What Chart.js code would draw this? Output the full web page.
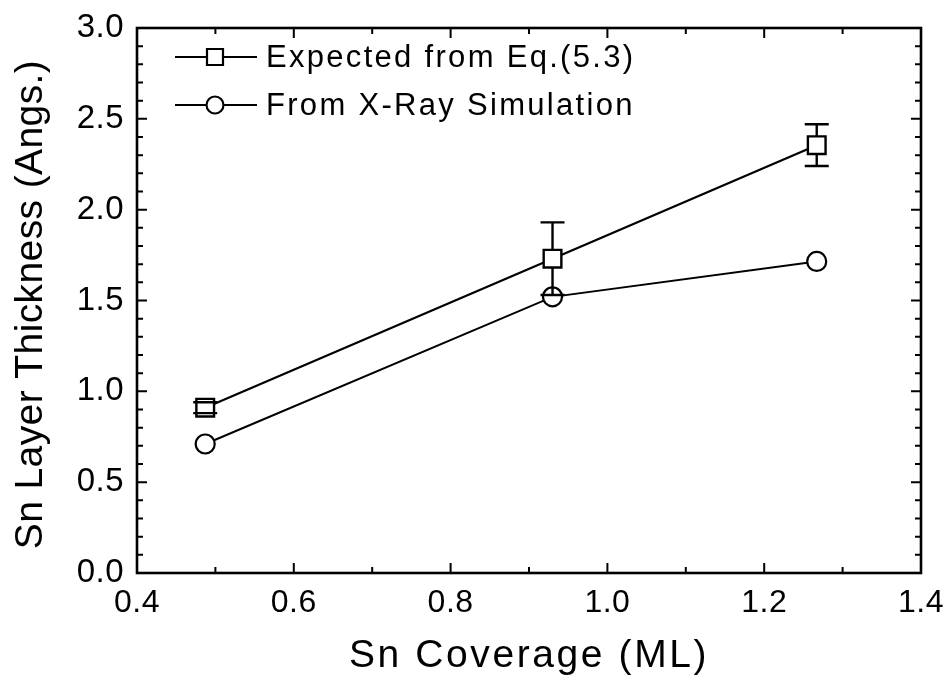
<!DOCTYPE html>
<html>
<head>
<meta charset="utf-8">
<script src="https://cdn.jsdelivr.net/npm/chart.js@4.4.1/dist/chart.umd.min.js"></script>
<style>
  html, body { margin: 0; padding: 0; background: #fff; }
  #wrap { width: 950px; height: 682px; }
</style>
</head>
<body>
<div id="wrap"><canvas id="c" width="950" height="682"></canvas></div>
<script>
// Sn coverage (ML) of the three samples
const coverage = [0.487, 0.930, 1.267];
// Layer thickness expected from Eq.(5.3), with its uncertainty
const expectedThickness = [0.91, 1.73, 2.355];
const expectedError = [0.03, 0.20, 0.115];
// Layer thickness obtained from the X-ray simulation
const simulatedThickness = [0.71, 1.52, 1.715];

const seriesNames = ['Expected from Eq.(5.3)', 'From X-Ray Simulation'];
const xTickValues = [0.4, 0.6, 0.8, 1.0, 1.2, 1.4];
const yTickValues = [0.0, 0.5, 1.0, 1.5, 2.0, 2.5, 3.0];
const xMinorStep = 0.1;
const yMinorStep = 0.1;
const xTitle = 'Sn Coverage (ML)';
const yTitle = 'Sn Layer Thickness (Angs.)';

const FONT = '"Liberation Sans", Arial, Helvetica, sans-serif';

// Frame, inward tick marks on all four sides, error bars, legend and axis titles
const decorations = {
  id: 'decorations',
  beforeDraw(chart) {
    chart.ctx.letterSpacing = '0.5px';
  },
  afterDatasetsDraw(chart) {
    const ctx = chart.ctx;
    const { left, right, top, bottom } = chart.chartArea;
    const xs = chart.scales.x, ys = chart.scales.y;
    ctx.save();
    ctx.letterSpacing = '0px';
    ctx.strokeStyle = '#000';
    ctx.lineCap = 'butt';

    // error bars (drawn outside the square symbol)
    const half = 9;
    ctx.lineWidth = 2.4;
    coverage.forEach((cx, i) => {
      const px = xs.getPixelForValue(cx);
      const py = ys.getPixelForValue(expectedThickness[i]);
      const hi = ys.getPixelForValue(expectedThickness[i] + expectedError[i]);
      const lo = ys.getPixelForValue(expectedThickness[i] - expectedError[i]);
      ctx.beginPath();
      if (py - hi > half) { ctx.moveTo(px, py - half); ctx.lineTo(px, hi); }
      if (lo - py > half) { ctx.moveTo(px, py + half); ctx.lineTo(px, lo); }
      ctx.moveTo(px - 12, hi); ctx.lineTo(px + 12, hi);
      ctx.moveTo(px - 12, lo); ctx.lineTo(px + 12, lo);
      ctx.stroke();
    });

    // frame
    ctx.lineWidth = 2.6;
    ctx.strokeRect(left, top, right - left, bottom - top);

    // ticks
    ctx.lineWidth = 2;
    const majorLen = 10, minorLen = 6;
    const nx = Math.round((xs.max - xs.min) / xMinorStep);
    for (let k = 0; k <= nx; k++) {
      const v = xs.min + k * xMinorStep;
      const major = xTickValues.some(t => Math.abs(t - v) < 1e-6);
      const len = major ? majorLen : minorLen;
      const px = xs.getPixelForValue(v);
      ctx.beginPath();
      ctx.moveTo(px, bottom); ctx.lineTo(px, bottom - len);
      ctx.moveTo(px, top); ctx.lineTo(px, top + len);
      ctx.stroke();
    }
    const ny = Math.round((ys.max - ys.min) / yMinorStep);
    for (let k = 0; k <= ny; k++) {
      const v = ys.min + k * yMinorStep;
      const major = yTickValues.some(t => Math.abs(t - v) < 1e-6);
      const len = major ? majorLen : minorLen;
      const py = ys.getPixelForValue(v);
      ctx.beginPath();
      ctx.moveTo(left, py); ctx.lineTo(left + len, py);
      ctx.moveTo(right, py); ctx.lineTo(right - len, py);
      ctx.stroke();
    }

    // legend
    ctx.font = '31px ' + FONT;
    ctx.letterSpacing = '2.3px';
    ctx.textBaseline = 'middle';
    ctx.textAlign = 'left';
    const rows = [
      { y: top + 29, style: 'rect' },
      { y: top + 77, style: 'circle' }
    ];
    const lx0 = left + 38, lx1 = left + 120, mx = left + 78;
    rows.forEach((r, i) => {
      ctx.lineWidth = 2;
      ctx.beginPath();
      ctx.moveTo(lx0, r.y); ctx.lineTo(lx1, r.y);
      ctx.stroke();
      ctx.lineWidth = 2.2;
      ctx.fillStyle = '#fff';
      ctx.beginPath();
      if (r.style === 'rect') {
        ctx.rect(mx - 8, r.y - 8, 16, 16);
      } else {
        ctx.arc(mx, r.y, 8.5, 0, Math.PI * 2);
      }
      ctx.fill();
      ctx.stroke();
      ctx.fillStyle = '#000';
      ctx.fillText(seriesNames[i], lx1 + 9, r.y + 1);
    });

    // axis titles
    ctx.font = '39px ' + FONT;
    ctx.textAlign = 'center';
    ctx.textBaseline = 'middle';
    ctx.letterSpacing = '2.6px';
    ctx.fillText(xTitle, (left + right) / 2, 656);
    ctx.letterSpacing = '0.4px';
    ctx.save();
    ctx.translate(31, (top + bottom) / 2 + 4);
    ctx.rotate(-Math.PI / 2);
    ctx.fillText(yTitle, 0, 0);
    ctx.restore();

    ctx.restore();
  }
};

new Chart(document.getElementById('c'), {
  type: 'scatter',
  data: {
    datasets: [
      {
        label: seriesNames[0],
        data: coverage.map((x, i) => ({ x, y: expectedThickness[i] })),
        showLine: true,
        borderColor: '#000',
        borderWidth: 2.2,
        pointStyle: 'rect',
        pointRadius: 12.5,
        pointBorderWidth: 2.4,
        pointBackgroundColor: '#fff',
        pointBorderColor: '#000'
      },
      {
        label: seriesNames[1],
        data: coverage.map((x, i) => ({ x, y: simulatedThickness[i] })),
        showLine: true,
        borderColor: '#000',
        borderWidth: 2,
        pointStyle: 'circle',
        pointRadius: 9.5,
        pointBorderWidth: 2.2,
        pointBackgroundColor: '#fff',
        pointBorderColor: '#000'
      }
    ]
  },
  options: {
    responsive: false,
    animation: false,
    devicePixelRatio: 1,
    layout: { padding: { top: 28, right: 29, left: 0, bottom: 0 } },
    plugins: { legend: { display: false }, tooltip: { enabled: false } },
    scales: {
      x: {
        type: 'linear',
        min: 0.4, max: 1.4,
        grid: { display: false, drawTicks: false },
        border: { display: false },
        afterBuildTicks(s) { s.ticks = xTickValues.map(v => ({ value: v })); },
        afterFit(s) { s.height = 109; s.paddingLeft = 0; s.paddingRight = 0; },
        ticks: {
          color: '#000',
          padding: 11,
          font: { family: FONT, size: 32 },
          maxRotation: 0,
          callback: v => Number(v).toFixed(1)
        }
      },
      y: {
        type: 'linear',
        min: 0, max: 3,
        grid: { display: false, drawTicks: false },
        border: { display: false },
        afterBuildTicks(s) { s.ticks = yTickValues.map(v => ({ value: v })); },
        afterFit(s) { s.width = 137; s.paddingTop = 0; s.paddingBottom = 0; },
        ticks: {
          color: '#000',
          padding: 13,
          font: { family: FONT, size: 33 },
          callback: v => Number(v).toFixed(1)
        }
      }
    }
  },
  plugins: [decorations]
});
</script>
</body>
</html>
